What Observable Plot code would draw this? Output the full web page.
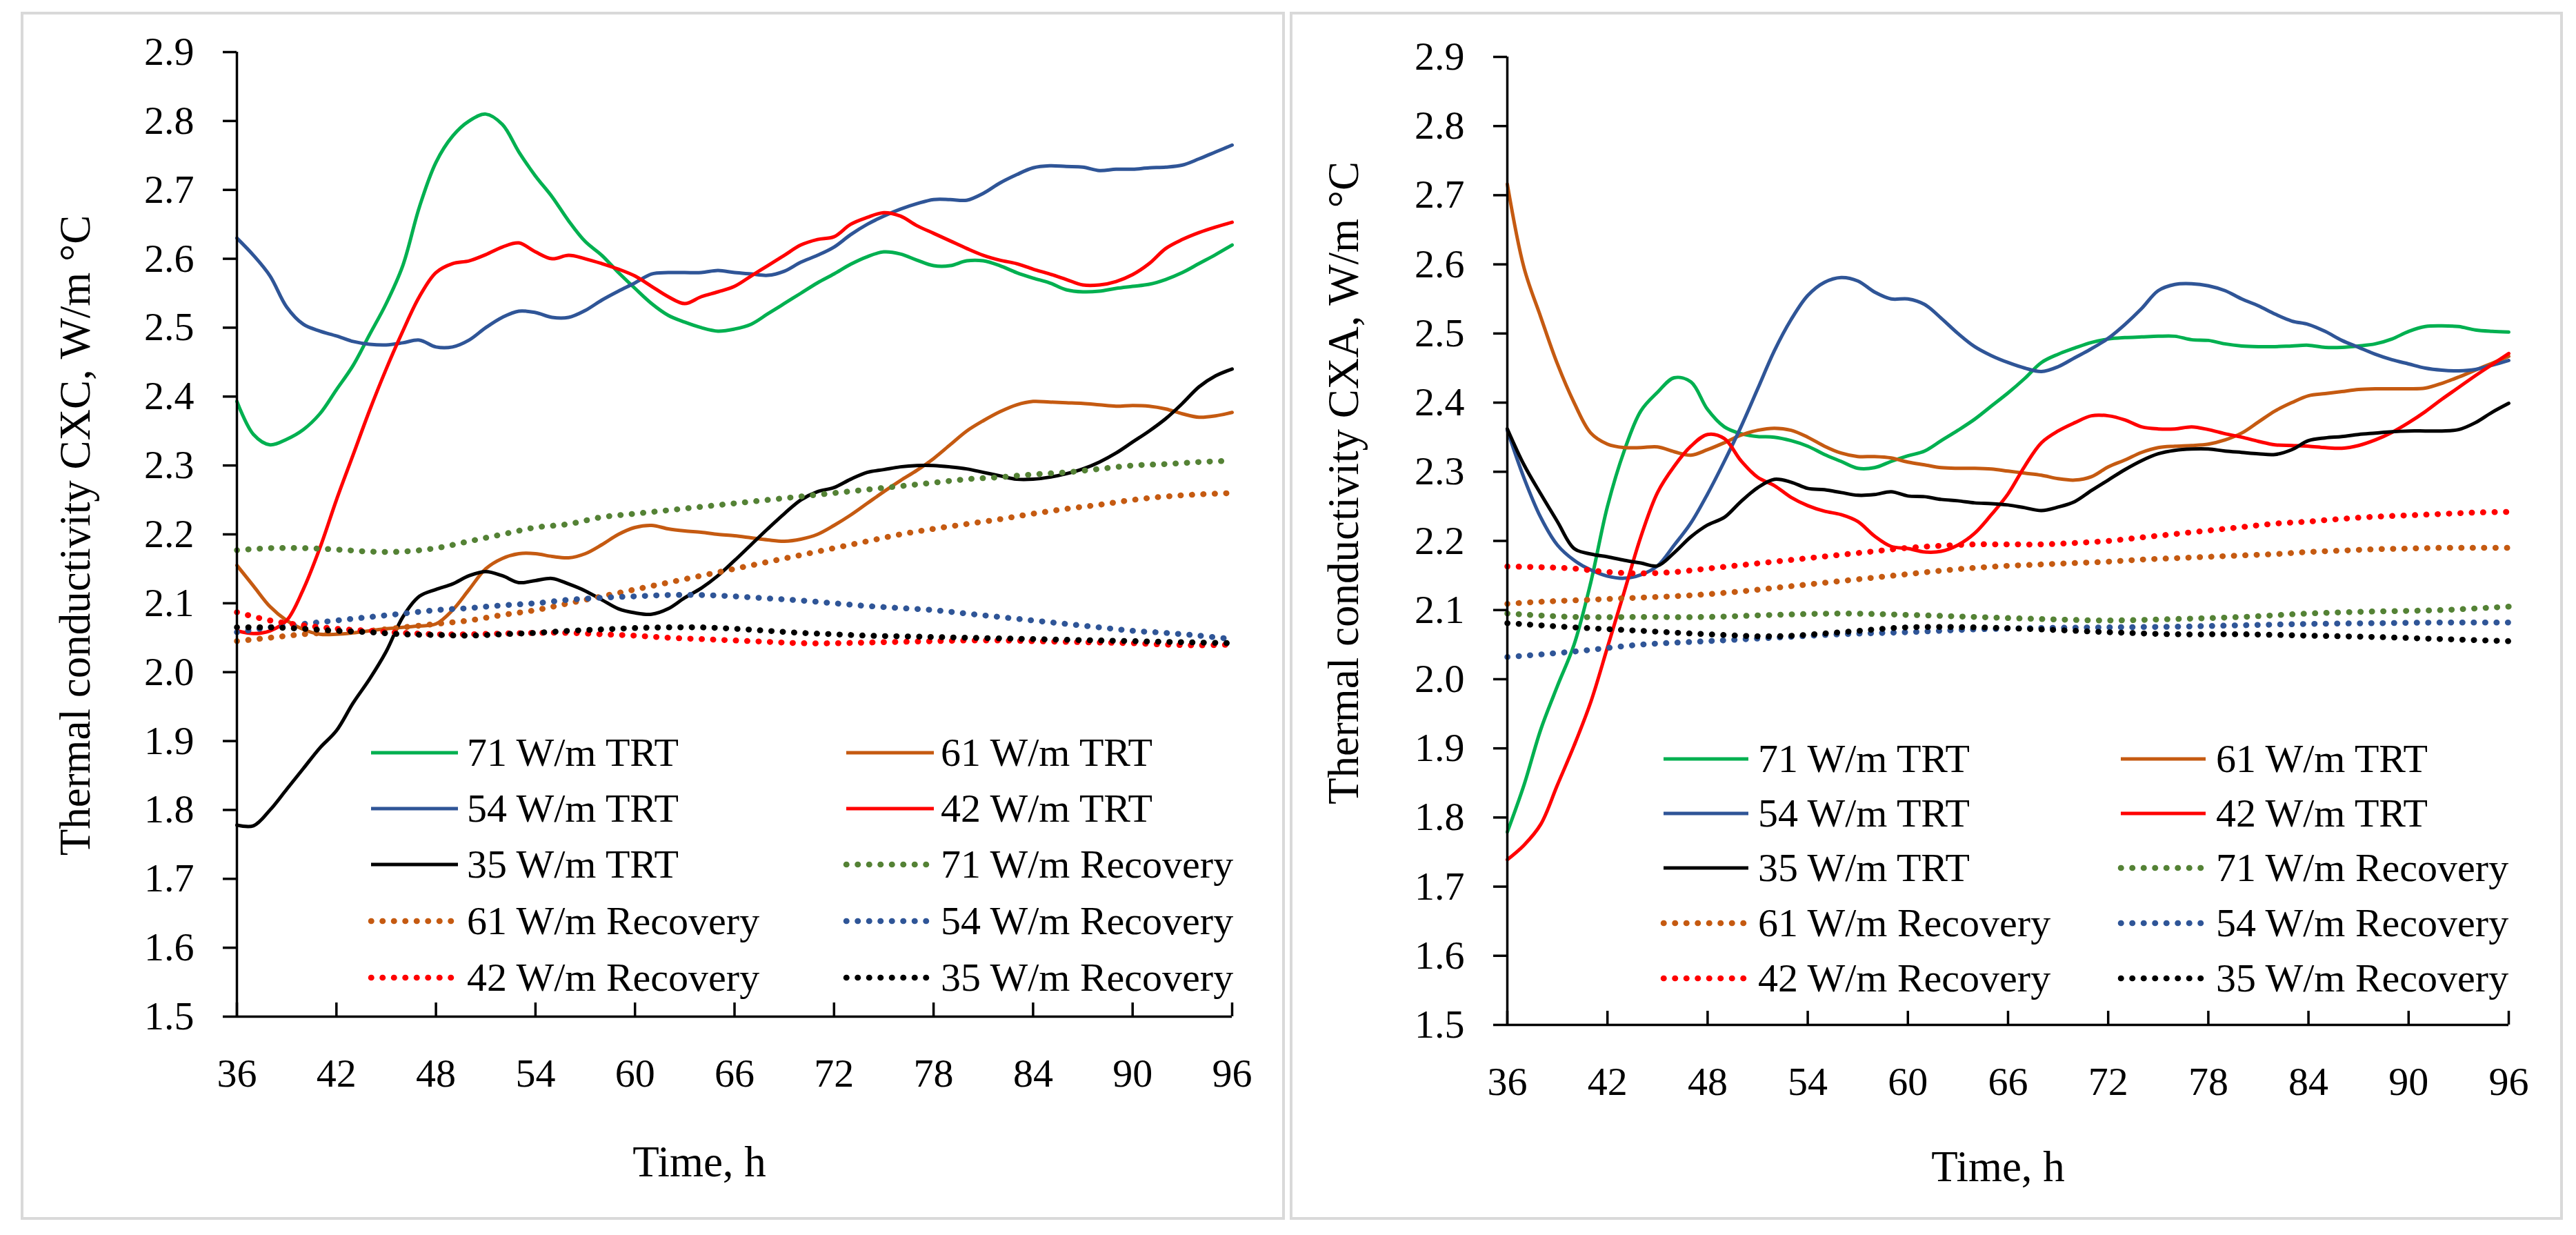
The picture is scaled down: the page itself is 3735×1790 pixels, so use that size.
<!DOCTYPE html>
<html><head><meta charset="utf-8">
<script src="https://cdn.jsdelivr.net/npm/d3@7"></script>
<script src="https://cdn.jsdelivr.net/npm/@observablehq/plot@0.6"></script>
<style>
html,body{margin:0;padding:0;background:#fff;}
body{width:3735px;height:1790px;position:relative;overflow:hidden;font-family:"Liberation Serif",serif;}
.panel{position:absolute;box-sizing:border-box;border:4.5px solid #d9d9d9;}
.plot{position:absolute;}
#overlay{position:absolute;left:0;top:0;pointer-events:none;}
</style></head><body>
<div class="panel" style="left:30px;top:17px;width:1833px;height:1751px"></div>
<div class="panel" style="left:1870px;top:17px;width:1846px;height:1751px"></div>
<script>
// ---------- tick labels ----------
const xTicks = [36, 42, 48, 54, 60, 66, 72, 78, 84, 90, 96];
const yTicks = [1.5, 1.6, 1.7, 1.8, 1.9, 2.0, 2.1, 2.2, 2.3, 2.4, 2.5, 2.6, 2.7, 2.8, 2.9];

// ---------- series names ----------
const seriesNames = ["71 W/m TRT", "61 W/m TRT", "54 W/m TRT", "42 W/m TRT", "35 W/m TRT",
  "71 W/m Recovery", "61 W/m Recovery", "54 W/m Recovery", "42 W/m Recovery", "35 W/m Recovery"];

// ---------- CXC (left) : [time h, thermal conductivity] ----------
const cxcTRT71 = [[36,2.393],[37,2.345],[38,2.33],[39,2.338],[40,2.352],[41,2.375],[42,2.41],[43,2.445],[44,2.49],[45,2.535],[46,2.59],[47,2.675],[48,2.74],[49,2.778],[50,2.8],[51,2.81],[52,2.795],[53,2.755],[54,2.72],[55,2.69],[56,2.655],[57,2.625],[58,2.605],[59,2.58],[60,2.557],[61,2.535],[62,2.518],[63,2.508],[64,2.5],[65,2.495],[66,2.498],[67,2.505],[68,2.52],[69,2.535],[70,2.55],[71,2.565],[72,2.578],[73,2.592],[74,2.603],[75,2.61],[76,2.607],[77,2.598],[78,2.59],[79,2.59],[80,2.597],[81,2.597],[82,2.59],[83,2.58],[84,2.572],[85,2.565],[86,2.555],[87,2.552],[88,2.553],[89,2.557],[90,2.56],[91,2.563],[92,2.57],[93,2.58],[94,2.593],[95,2.606],[96,2.62]];
const cxcTRT61 = [[36,2.155],[37,2.125],[38,2.095],[39,2.075],[40,2.062],[41,2.055],[42,2.055],[43,2.057],[44,2.06],[45,2.063],[46,2.065],[47,2.067],[48,2.07],[49,2.09],[50,2.12],[51,2.15],[52,2.165],[53,2.172],[54,2.172],[55,2.168],[56,2.166],[57,2.172],[58,2.185],[59,2.2],[60,2.21],[61,2.213],[62,2.208],[63,2.205],[64,2.203],[65,2.2],[66,2.198],[67,2.195],[68,2.192],[69,2.19],[70,2.193],[71,2.2],[72,2.213],[73,2.228],[74,2.245],[75,2.262],[76,2.278],[77,2.293],[78,2.31],[79,2.33],[80,2.35],[81,2.365],[82,2.378],[83,2.388],[84,2.393],[85,2.392],[86,2.391],[87,2.39],[88,2.388],[89,2.386],[90,2.387],[91,2.386],[92,2.382],[93,2.375],[94,2.37],[95,2.372],[96,2.377]];
const cxcTRT54 = [[36,2.63],[37,2.605],[38,2.575],[39,2.53],[40,2.505],[41,2.495],[42,2.488],[43,2.48],[44,2.476],[45,2.475],[46,2.478],[47,2.482],[48,2.472],[49,2.472],[50,2.482],[51,2.5],[52,2.515],[53,2.524],[54,2.522],[55,2.515],[56,2.515],[57,2.525],[58,2.54],[59,2.553],[60,2.565],[61,2.578],[62,2.58],[63,2.58],[64,2.58],[65,2.583],[66,2.58],[67,2.578],[68,2.576],[69,2.582],[70,2.595],[71,2.605],[72,2.617],[73,2.635],[74,2.65],[75,2.662],[76,2.672],[77,2.68],[78,2.686],[79,2.686],[80,2.685],[81,2.695],[82,2.71],[83,2.722],[84,2.732],[85,2.735],[86,2.734],[87,2.733],[88,2.728],[89,2.73],[90,2.73],[91,2.732],[92,2.733],[93,2.736],[94,2.745],[95,2.755],[96,2.765]];
const cxcTRT42 = [[36,2.06],[37,2.056],[38,2.06],[39,2.075],[40,2.12],[41,2.18],[42,2.25],[43,2.315],[44,2.38],[45,2.44],[46,2.495],[47,2.545],[48,2.58],[49,2.593],[50,2.597],[51,2.606],[52,2.617],[53,2.623],[54,2.61],[55,2.6],[56,2.605],[57,2.6],[58,2.593],[59,2.585],[60,2.575],[61,2.56],[62,2.545],[63,2.535],[64,2.545],[65,2.552],[66,2.56],[67,2.575],[68,2.59],[69,2.605],[70,2.62],[71,2.628],[72,2.632],[73,2.65],[74,2.66],[75,2.667],[76,2.662],[77,2.648],[78,2.637],[79,2.626],[80,2.615],[81,2.605],[82,2.598],[83,2.593],[84,2.585],[85,2.578],[86,2.57],[87,2.562],[88,2.562],[89,2.567],[90,2.577],[91,2.593],[92,2.615],[93,2.628],[94,2.638],[95,2.646],[96,2.653]];
const cxcTRT35 = [[36,1.778],[37,1.777],[38,1.8],[39,1.83],[40,1.86],[41,1.89],[42,1.915],[43,1.955],[44,1.99],[45,2.03],[46,2.08],[47,2.11],[48,2.12],[49,2.128],[50,2.14],[51,2.146],[52,2.14],[53,2.13],[54,2.133],[55,2.136],[56,2.128],[57,2.118],[58,2.105],[59,2.092],[60,2.086],[61,2.084],[62,2.092],[63,2.108],[64,2.122],[65,2.14],[66,2.162],[67,2.185],[68,2.208],[69,2.23],[70,2.25],[71,2.262],[72,2.268],[73,2.28],[74,2.29],[75,2.294],[76,2.298],[77,2.3],[78,2.3],[79,2.298],[80,2.295],[81,2.29],[82,2.285],[83,2.28],[84,2.28],[85,2.283],[86,2.288],[87,2.295],[88,2.305],[89,2.318],[90,2.334],[91,2.35],[92,2.368],[93,2.39],[94,2.414],[95,2.43],[96,2.44]];
const cxcRec71 = [[36,2.177],[38,2.18],[40,2.18],[42,2.178],[44,2.175],[46,2.175],[48,2.18],[50,2.19],[52,2.2],[54,2.21],[56,2.215],[58,2.225],[60,2.23],[62,2.235],[64,2.24],[66,2.245],[68,2.25],[70,2.255],[72,2.26],[74,2.265],[76,2.27],[78,2.275],[80,2.28],[82,2.283],[84,2.287],[86,2.29],[88,2.295],[90,2.3],[92,2.302],[94,2.305],[96,2.307]];
const cxcRec61 = [[36,2.045],[38,2.05],[40,2.055],[42,2.058],[44,2.06],[46,2.065],[48,2.07],[50,2.075],[52,2.083],[54,2.09],[56,2.1],[58,2.11],[60,2.12],[62,2.13],[64,2.14],[66,2.15],[68,2.16],[70,2.17],[72,2.18],[74,2.19],[76,2.2],[78,2.208],[80,2.215],[82,2.222],[84,2.23],[86,2.237],[88,2.243],[90,2.25],[92,2.255],[94,2.258],[96,2.26]];
const cxcRec54 = [[36,2.058],[38,2.065],[40,2.07],[42,2.075],[44,2.08],[46,2.085],[48,2.09],[50,2.093],[52,2.097],[54,2.1],[56,2.105],[58,2.108],[60,2.11],[62,2.112],[64,2.112],[66,2.11],[68,2.107],[70,2.104],[72,2.1],[74,2.096],[76,2.093],[78,2.09],[80,2.085],[82,2.08],[84,2.075],[86,2.07],[88,2.065],[90,2.06],[92,2.057],[94,2.053],[96,2.048]];
const cxcRec42 = [[36,2.087],[38,2.075],[40,2.068],[42,2.063],[44,2.06],[46,2.057],[48,2.055],[50,2.055],[52,2.056],[54,2.057],[56,2.057],[58,2.055],[60,2.053],[62,2.05],[64,2.048],[66,2.046],[68,2.044],[70,2.042],[72,2.042],[74,2.043],[76,2.044],[78,2.045],[80,2.046],[82,2.046],[84,2.045],[86,2.044],[88,2.043],[90,2.042],[92,2.04],[94,2.039],[96,2.04]];
const cxcRec35 = [[36,2.065],[38,2.065],[40,2.063],[42,2.06],[44,2.058],[46,2.055],[48,2.054],[50,2.053],[52,2.055],[54,2.057],[56,2.06],[58,2.062],[60,2.064],[62,2.065],[64,2.065],[66,2.063],[68,2.06],[70,2.057],[72,2.055],[74,2.053],[76,2.052],[78,2.051],[80,2.05],[82,2.049],[84,2.048],[86,2.047],[88,2.046],[90,2.045],[92,2.044],[94,2.043],[96,2.042]];

// ---------- CXA (right) ----------
const cxaTRT71 = [[36,1.779],[37,1.847],[38,1.927],[39,1.99],[40,2.05],[41,2.14],[42,2.25],[43,2.33],[44,2.388],[45,2.415],[46,2.436],[47,2.43],[48,2.39],[49,2.365],[50,2.355],[51,2.351],[52,2.35],[53,2.345],[54,2.337],[55,2.325],[56,2.315],[57,2.305],[58,2.306],[59,2.315],[60,2.323],[61,2.33],[62,2.345],[63,2.36],[64,2.376],[65,2.395],[66,2.414],[67,2.435],[68,2.458],[69,2.47],[70,2.479],[71,2.487],[72,2.492],[73,2.494],[74,2.495],[75,2.496],[76,2.496],[77,2.491],[78,2.49],[79,2.485],[80,2.482],[81,2.481],[82,2.481],[83,2.482],[84,2.483],[85,2.48],[86,2.48],[87,2.482],[88,2.485],[89,2.492],[90,2.503],[91,2.51],[92,2.511],[93,2.51],[94,2.505],[95,2.503],[96,2.502]];
const cxaTRT61 = [[36,2.716],[37,2.595],[38,2.524],[39,2.456],[40,2.4],[41,2.356],[42,2.34],[43,2.335],[44,2.335],[45,2.336],[46,2.329],[47,2.324],[48,2.332],[49,2.342],[50,2.353],[51,2.36],[52,2.363],[53,2.36],[54,2.35],[55,2.337],[56,2.327],[57,2.322],[58,2.322],[59,2.32],[60,2.314],[61,2.31],[62,2.306],[63,2.305],[64,2.305],[65,2.304],[66,2.301],[67,2.298],[68,2.295],[69,2.29],[70,2.288],[71,2.293],[72,2.307],[73,2.317],[74,2.328],[75,2.335],[76,2.337],[77,2.338],[78,2.34],[79,2.346],[80,2.356],[81,2.372],[82,2.388],[83,2.4],[84,2.41],[85,2.413],[86,2.416],[87,2.419],[88,2.42],[89,2.42],[90,2.42],[91,2.421],[92,2.428],[93,2.437],[94,2.447],[95,2.457],[96,2.467]];
const cxaTRT54 = [[36,2.36],[37,2.291],[38,2.234],[39,2.194],[40,2.172],[41,2.158],[42,2.149],[43,2.146],[44,2.151],[45,2.164],[46,2.194],[47,2.226],[48,2.268],[49,2.315],[50,2.365],[51,2.42],[52,2.475],[53,2.52],[54,2.555],[55,2.574],[56,2.581],[57,2.576],[58,2.56],[59,2.55],[60,2.55],[61,2.542],[62,2.522],[63,2.5],[64,2.481],[65,2.468],[66,2.458],[67,2.45],[68,2.445],[69,2.452],[70,2.465],[71,2.478],[72,2.493],[73,2.513],[74,2.536],[75,2.562],[76,2.571],[77,2.572],[78,2.569],[79,2.562],[80,2.55],[81,2.54],[82,2.528],[83,2.518],[84,2.513],[85,2.503],[86,2.49],[87,2.48],[88,2.47],[89,2.462],[90,2.456],[91,2.45],[92,2.447],[93,2.446],[94,2.448],[95,2.454],[96,2.461]];
const cxaTRT42 = [[36,1.739],[37,1.76],[38,1.79],[39,1.847],[40,1.904],[41,1.967],[42,2.046],[43,2.126],[44,2.206],[45,2.27],[46,2.308],[47,2.337],[48,2.354],[49,2.348],[50,2.316],[51,2.292],[52,2.28],[53,2.263],[54,2.251],[55,2.243],[56,2.238],[57,2.228],[58,2.207],[59,2.192],[60,2.189],[61,2.184],[62,2.185],[63,2.194],[64,2.211],[65,2.238],[66,2.268],[67,2.308],[68,2.342],[69,2.359],[70,2.371],[71,2.381],[72,2.381],[73,2.375],[74,2.365],[75,2.362],[76,2.362],[77,2.365],[78,2.361],[79,2.355],[80,2.35],[81,2.344],[82,2.339],[83,2.338],[84,2.337],[85,2.335],[86,2.334],[87,2.338],[88,2.346],[89,2.357],[90,2.371],[91,2.387],[92,2.405],[93,2.422],[94,2.439],[95,2.455],[96,2.471]];
const cxaTRT35 = [[36,2.362],[37,2.31],[38,2.268],[39,2.228],[40,2.189],[41,2.181],[42,2.177],[43,2.172],[44,2.168],[45,2.164],[46,2.183],[47,2.206],[48,2.223],[49,2.234],[50,2.257],[51,2.277],[52,2.289],[53,2.285],[54,2.276],[55,2.274],[56,2.27],[57,2.266],[58,2.267],[59,2.271],[60,2.265],[61,2.264],[62,2.26],[63,2.258],[64,2.255],[65,2.254],[66,2.252],[67,2.248],[68,2.244],[69,2.249],[70,2.257],[71,2.273],[72,2.288],[73,2.303],[74,2.316],[75,2.326],[76,2.331],[77,2.333],[78,2.333],[79,2.33],[80,2.328],[81,2.326],[82,2.325],[83,2.332],[84,2.345],[85,2.349],[86,2.351],[87,2.354],[88,2.356],[89,2.358],[90,2.359],[91,2.359],[92,2.359],[93,2.361],[94,2.371],[95,2.386],[96,2.399]];
const cxaRec71 = [[36,2.095],[40,2.09],[44,2.09],[48,2.09],[52,2.093],[56,2.095],[60,2.093],[64,2.09],[68,2.087],[72,2.085],[76,2.087],[80,2.09],[84,2.095],[88,2.098],[92,2.1],[96,2.105]];
const cxaRec61 = [[36,2.109],[38,2.112],[40,2.114],[42,2.116],[44,2.118],[46,2.12],[48,2.123],[50,2.127],[52,2.132],[54,2.137],[56,2.142],[58,2.147],[60,2.152],[62,2.157],[64,2.161],[66,2.164],[68,2.166],[70,2.168],[72,2.17],[74,2.173],[76,2.175],[78,2.177],[80,2.179],[82,2.181],[84,2.184],[86,2.186],[88,2.188],[90,2.189],[92,2.19],[94,2.19],[96,2.19]];
const cxaRec54 = [[36,2.032],[40,2.04],[44,2.05],[48,2.055],[52,2.06],[56,2.065],[60,2.068],[64,2.072],[68,2.074],[72,2.075],[76,2.076],[80,2.078],[84,2.08],[88,2.081],[92,2.082],[96,2.082]];
const cxaRec42 = [[36,2.163],[38,2.162],[40,2.16],[42,2.155],[44,2.153],[46,2.155],[48,2.16],[50,2.165],[52,2.17],[54,2.175],[56,2.18],[58,2.185],[60,2.19],[62,2.193],[64,2.195],[66,2.195],[68,2.195],[70,2.197],[72,2.2],[74,2.205],[76,2.21],[78,2.215],[80,2.22],[82,2.225],[84,2.228],[86,2.232],[88,2.235],[90,2.237],[92,2.239],[94,2.241],[96,2.242]];
const cxaRec35 = [[36,2.081],[40,2.075],[44,2.07],[48,2.065],[52,2.062],[56,2.068],[60,2.075],[64,2.075],[68,2.072],[72,2.068],[76,2.065],[80,2.065],[84,2.063],[88,2.061],[92,2.058],[96,2.055]];

// ---------- styling ----------
const colors = ["#00B050", "#C55A11", "#2F5597", "#FF0000", "#000000",
                "#548235", "#C55A11", "#2F5597", "#FF0000", "#000000"];
const FONT = '"Liberation Serif", serif';
const DOT = "0.5,16";
const DOT_W = 8.5;

function makePanel(seriesList, box, margins) {
  const [mt, mr, mb, ml] = margins;
  const innerH = box.h - mt - mb;
  const marks = [];
  seriesList.forEach((data, i) => {
    const rec = i >= 5;
    marks.push(Plot.line(data, {
      x: d => d[0], y: d => d[1], stroke: colors[i],
      strokeWidth: rec ? DOT_W : 5,
      strokeDasharray: rec ? DOT : null,
      strokeLinecap: "round",
      curve: "catmull-rom"
    }));
  });
  marks.push(Plot.ruleX([xTicks[0]], {stroke: "#000", strokeWidth: 3.5}));
  marks.push(Plot.ruleY([yTicks[0]], {stroke: "#000", strokeWidth: 3.5}));
  marks.push(Plot.ruleX(xTicks, {insetTop: innerH - 20, stroke: "#000", strokeWidth: 3.5}));
  marks.push(Plot.axisY(yTicks, {tickSize: 20, tickPadding: 42, tickFormat: d => d.toFixed(1),
    fontSize: 58, strokeWidth: 3.5, stroke: "#000", fill: "#000", label: null}));
  marks.push(Plot.axisX(xTicks, {tickSize: 0, tickPadding: 60, tickFormat: d => String(d),
    fontSize: 58, fill: "#000", label: null}));
  const svg = Plot.plot({
    width: box.w, height: box.h,
    marginTop: mt, marginRight: mr, marginBottom: mb, marginLeft: ml,
    x: {domain: [xTicks[0], xTicks[xTicks.length - 1]]},
    y: {domain: [yTicks[0], yTicks[yTicks.length - 1]]},
    style: {fontFamily: FONT, color: "#000", background: "transparent", overflow: "visible"},
    marks
  });
  svg.classList.add("plot");
  svg.style.left = box.x + "px";
  svg.style.top = box.y + "px";
  document.body.appendChild(svg);
}

makePanel([cxcTRT71, cxcTRT61, cxcTRT54, cxcTRT42, cxcTRT35, cxcRec71, cxcRec61, cxcRec54, cxcRec42, cxcRec35],
  {x: 30, y: 17, w: 1833, h: 1751}, [58, 77, 295, 313]);
makePanel([cxaTRT71, cxaTRT61, cxaTRT54, cxaTRT42, cxaTRT35, cxaRec71, cxaRec61, cxaRec54, cxaRec42, cxaRec35],
  {x: 1870, y: 17, w: 1846, h: 1751}, [65, 79, 283, 315]);

// ---------- overlay: axis titles & legends ----------
const ov = d3.select("body").append("svg").attr("id", "overlay")
  .attr("width", 3735).attr("height", 1790)
  .style("font-family", FONT);

function title(x, y, txt, rot) {
  ov.append("text").attr("transform", `translate(${x},${y})` + (rot ? " rotate(-90)" : ""))
    .attr("text-anchor", "middle").attr("font-size", 63).attr("fill", "#000").text(txt);
}
title(130, 776, "Thermal conductivity CXC, W/m °C", true);
title(1969, 700, "Thermal conductivity CXA, W/m °C", true);
title(1014, 1705, "Time, h", false);
title(2897, 1712, "Time, h", false);

function legend(cols, rows) {
  seriesNames.forEach((name, i) => {
    const c = cols[i % 2], r = rows[Math.floor(i / 2)];
    const rec = i >= 5;
    ov.append("line").attr("x1", c.x1).attr("x2", c.x2).attr("y1", r).attr("y2", r)
      .attr("stroke", colors[i]).attr("stroke-width", rec ? DOT_W : 5)
      .attr("stroke-dasharray", rec ? DOT : null).attr("stroke-linecap", rec ? "round" : "butt");
    ov.append("text").attr("x", c.tx).attr("y", r + 19).attr("font-size", 58).attr("fill", "#000").text(name);
  });
}
legend([{x1: 538, x2: 664, tx: 677}, {x1: 1227, x2: 1354, tx: 1364}], [1091, 1172, 1253, 1335, 1417]);
legend([{x1: 2412, x2: 2535, tx: 2549}, {x1: 3075, x2: 3198, tx: 3213}], [1100, 1179, 1258, 1338, 1418]);
</script>
</body></html>
